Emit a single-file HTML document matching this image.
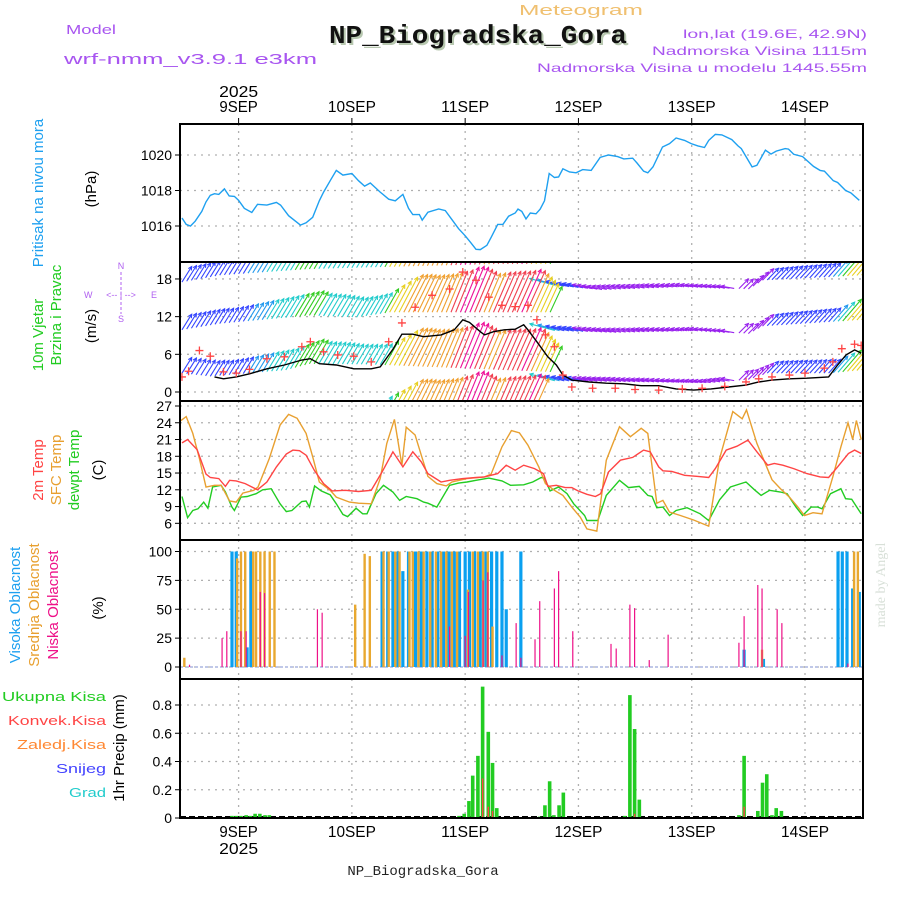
<!DOCTYPE html>
<html><head><meta charset="utf-8"><style>
html,body{margin:0;padding:0;background:#fff;}
svg{display:block;font-family:"Liberation Sans",sans-serif;}
</style></head><body>
<svg id="chart" width="900" height="900" viewBox="0 0 900 900">
<rect x="0" y="0" width="900" height="900" fill="#fff"/>
<g>
<text x="581" y="15" font-size="15" fill="#f0c070" text-anchor="middle" textLength="124" lengthAdjust="spacingAndGlyphs">Meteogram</text>
<text x="66" y="34" font-size="13" fill="#a855f0" textLength="50" lengthAdjust="spacingAndGlyphs">Model</text>
<text x="64" y="64" font-size="15" fill="#a855f0" textLength="253" lengthAdjust="spacingAndGlyphs">wrf-nmm_v3.9.1 e3km</text>
<text x="480" y="45" font-size="26" font-weight="bold" fill="#b8c8b0" text-anchor="middle" font-family="Liberation Mono, monospace" textLength="298" lengthAdjust="spacingAndGlyphs">NP_Biogradska_Gora</text>
<text x="478" y="43" font-size="26" font-weight="bold" fill="#111" text-anchor="middle" font-family="Liberation Mono, monospace" textLength="298" lengthAdjust="spacingAndGlyphs">NP_Biogradska_Gora</text>
<text x="867" y="38" font-size="12" fill="#a855f0" text-anchor="end" textLength="184" lengthAdjust="spacingAndGlyphs">lon,lat (19.6E, 42.9N)</text>
<text x="867" y="55" font-size="12" fill="#a855f0" text-anchor="end" textLength="215" lengthAdjust="spacingAndGlyphs">Nadmorska Visina 1115m</text>
<text x="867" y="72" font-size="12" fill="#a855f0" text-anchor="end" textLength="330" lengthAdjust="spacingAndGlyphs">Nadmorska Visina u modelu 1445.55m</text>
</g>
<g>
<text transform="translate(43,193) rotate(-90)" font-size="15" fill="#1ea0f0" text-anchor="middle">Pritisak na nivou mora</text>
<text transform="translate(96,189) rotate(-90)" font-size="15" fill="#000" text-anchor="middle">(hPa)</text>
<text transform="translate(43,335) rotate(-90)" font-size="15" fill="#22cc22" text-anchor="middle">10m Vjetar</text>
<text transform="translate(61,315) rotate(-90)" font-size="15" fill="#22cc22" text-anchor="middle">Brzina i Pravac</text>
<text transform="translate(96,326) rotate(-90)" font-size="15" fill="#000" text-anchor="middle">(m/s)</text>
<g font-size="9" fill="#b060f0">
<text x="121" y="269" text-anchor="middle">N</text><text x="121" y="322" text-anchor="middle">S</text>
<text x="84" y="298">W</text><text x="151" y="298">E</text>
<text x="121" y="298" text-anchor="middle">&lt;-- | --&gt;</text>
<line x1="121" y1="272" x2="121" y2="314" stroke="#b060f0" stroke-dasharray="3,2"/>
</g>
<text transform="translate(43,470) rotate(-90)" font-size="15" fill="#ff4444" text-anchor="middle">2m Temp</text>
<text transform="translate(61,470) rotate(-90)" font-size="15" fill="#e8a030" text-anchor="middle">SFC Temp</text>
<text transform="translate(79,470) rotate(-90)" font-size="15" fill="#22cc22" text-anchor="middle">dewpt Temp</text>
<text transform="translate(103,470) rotate(-90)" font-size="15" fill="#000" text-anchor="middle">(C)</text>
<text transform="translate(20,605) rotate(-90)" font-size="15" fill="#1ea0f0" text-anchor="middle">Visoka Oblacnost</text>
<text transform="translate(39,605) rotate(-90)" font-size="15" fill="#e8a030" text-anchor="middle">Srednja Oblacnost</text>
<text transform="translate(58,605) rotate(-90)" font-size="15" fill="#ee1188" text-anchor="middle">Niska Oblacnost</text>
<text transform="translate(103,608) rotate(-90)" font-size="15" fill="#000" text-anchor="middle">(%)</text>
<g font-size="13" text-anchor="end">
<text x="106" y="701" fill="#22cc22" textLength="104" lengthAdjust="spacingAndGlyphs">Ukupna Kisa</text>
<text x="106" y="725" fill="#ff4444" textLength="98" lengthAdjust="spacingAndGlyphs">Konvek.Kisa</text>
<text x="106" y="749" fill="#ff8833" textLength="89" lengthAdjust="spacingAndGlyphs">Zaledj.Kisa</text>
<text x="106" y="773" fill="#4444ff" textLength="50" lengthAdjust="spacingAndGlyphs">Snijeg</text>
<text x="106" y="797" fill="#22cccc" textLength="37" lengthAdjust="spacingAndGlyphs">Grad</text>
</g>
<text transform="translate(124,748) rotate(-90)" font-size="15" fill="#000" text-anchor="middle">1hr Precip (mm)</text>
<text transform="translate(885,585) rotate(-90)" font-size="14" fill="#d8e0d8" text-anchor="middle" font-family="Liberation Serif, serif">made by Angel</text>
<text x="423" y="875" font-size="14" fill="#222" text-anchor="middle" font-family="Liberation Mono, monospace">NP_Biogradska_Gora</text>
</g>
<g id="plot"></g>
</svg>
<script>
// ---------------- data ----------------
const dayLabels = ["9SEP","10SEP","11SEP","12SEP","13SEP","14SEP"];
const dayHours = [0,24,48,72,96,120];
const yearLabel = "2025";

const presHours = [-12,-11.1,-10.2,-9.2,-7.8,-6.9,-6,-5.1,-4.2,-3,-2,-0.9,0,1.2,2.8,4,6,8,8.9,10.6,13.1,14.3,15.7,17.1,18,19.4,20.7,22.1,24,25.4,26.7,27.9,30,31.8,33.2,34.8,36,36.9,38.3,38.9,40.1,42.4,43.8,45.2,46.6,48,49.1,50.3,51.2,52.6,53.5,54.9,56,57.2,58.6,59.2,60,60.9,61.8,63,63.9,64.8,65.8,66.9,67.8,68.7,70.1,71.5,72.9,74.7,76.6,78.4,80.3,81.6,83.5,84.4,85.8,86.7,87.8,89.8,91.3,92.7,94.5,95.9,97.3,98.7,99.6,101,102.4,104.5,105.8,106.5,108.8,109.8,111.6,112.8,113.9,115.8,116.5,117.6,119.5,121.8,123.2,124.1,126,126.9,128.6,129.7,131.5];
const presVals = [1016.45,1016.09,1016.0,1016.27,1016.82,1017.36,1017.73,1017.82,1017.78,1018.09,1017.69,1017.67,1017.45,1017.0,1016.76,1017.22,1017.18,1017.33,1017.18,1016.58,1016.05,1016.18,1016.49,1017.42,1017.91,1018.55,1019.13,1018.87,1018.96,1018.55,1018.25,1018.42,1017.91,1017.51,1017.42,1017.78,1017.0,1016.64,1016.64,1016.33,1016.78,1016.96,1016.87,1016.36,1015.85,1015.45,1015.09,1014.69,1014.67,1014.91,1015.36,1016.09,1016.09,1016.55,1016.73,1016.95,1016.82,1016.4,1016.73,1016.69,1016.95,1017.42,1018.96,1018.73,1018.76,1019.22,1019.04,1019.0,1019.18,1019.13,1019.87,1020.0,1019.91,1019.78,1019.82,1019.55,1019.09,1019.0,1019.33,1020.45,1020.64,1020.96,1020.82,1020.64,1020.51,1020.42,1020.82,1021.16,1021.13,1020.87,1020.51,1020.36,1019.33,1019.42,1020.27,1020.05,1020.22,1020.36,1020.33,1020.04,1019.91,1019.36,1019.13,1019.09,1018.55,1018.45,1018.0,1017.87,1017.45];
const presTicks = [1016,1018,1020];

const windHours = [-5.1,-3.2,-0.5,2.3,6,9.7,13.4,15.2,17.1,20.7,24.4,28.1,30,32.7,34.6,36.9,39.2,42.9,45.7,47.5,48.9,51.2,52.1,54,56.3,58.6,60.4,61.3,63.2,65.5,67.3,68.7,70.6,74.3,77.9,81.6,85.3,89,92.7,96.4,100.1,103.8,107.5,110.2,113,116.7,120.4,125,126.9,128.7,130.5,131.9];
const windVals = [2.4,2.1,2.4,2.9,3.7,4.3,5.1,5.3,4.5,4.3,3.7,3.7,4.0,6.8,9.2,9.2,8.8,9.1,9.9,11.5,11.1,9.6,9.1,9.6,9.9,10.0,10.7,9.9,8.0,5.6,4.3,2.7,1.9,1.6,1.4,1.3,1.0,1.0,0.5,0.3,0.5,0.8,1.1,1.6,1.9,2.1,2.2,2.4,4.3,5.9,6.7,6.2];
const gustHours = [-12,-10.6,-8.3,-6,-3.2,-0.5,2.3,6,9.7,13.4,15.2,18,21,24.4,28.1,31.8,34.6,37.4,41,44.7,47.5,50.3,53,55.8,58.6,61.3,63.2,65,66.9,68.7,70.6,75,79.8,84,89,94,98.2,103,107.5,110.2,113,116.7,120,124.1,125.9,127.8,130.5,131.9];
const gustVals = [2.4,3.3,6.6,5.7,3.2,3.0,3.6,5.3,5.6,7.2,8.0,6.4,5.9,5.7,4.8,8.0,11.0,13.5,15.4,16.4,19.1,17.8,15.1,13.8,13.6,13.8,11.5,9.1,7.2,2.7,0.8,0.6,0.6,0.4,0.3,0.5,0.6,0.9,1.6,2.1,2.4,2.7,3.0,3.8,4.8,6.9,7.6,7.4];
const windDirHours = [-12,30,45,66,66.5,105,106,132];
const windDirDeg = [58,60,68,65,165,170,45,50];
const rowTopHours = [-12,-4,15,30,55,66,67,77,95,108,111,132];
const rowTopVals = [17.5,18.6,19.6,19.9,20.4,20.4,17.0,16.3,16.8,16.4,17.8,18.6];
const rowMidHours = [-12,-4,15,25,32,66,67,80,98,108,111,132];
const rowMidVals = [9.9,10.9,12.2,11.9,12.7,12.7,9.8,9.5,9.8,9.3,10.5,11.5];
const rowLowHours = [-12,-6,10,15,28,66,67,100,108,112,125,132];
const rowLowVals = [3.0,2.5,3.5,4.5,4.4,3.2,1.8,1.5,2.0,3.0,3.0,3.5];
const rowBotHours = [30,62];
const rowBotVals = [-4,-4];
const windTicks = [0,6,12,18];

const t2Hours = [-12,-10.8,-8.8,-6.9,-6,-4.2,-2.8,-1.9,-0.5,1.4,4,6,8,10.1,11.5,12.9,14.3,16.1,18,19.8,22.6,25.4,28.1,30.4,32.7,34.8,36.9,38.7,40.1,42.9,44.7,47.5,50.3,52.1,54.9,56.7,58.6,60.4,62.7,64.6,65.5,67.3,69.2,70.6,71.9,73.8,75.6,76.7,78.4,80.9,83.5,85.8,87.2,89,89.9,91.8,94.5,97.3,99.6,101,103.3,105.6,107.9,109.8,112.1,113.5,115.3,117.6,120.4,123.2,125,126.9,129.2,130.5,131.9];
const t2Vals = [20.4,21.0,19.2,14.8,14.2,14.0,12.6,13.7,13.6,13.1,12.0,13.4,16.1,18.4,19.1,19.0,18.2,15.4,13.1,11.8,11.9,11.7,11.9,15.2,18.8,16.1,18.8,17.0,14.9,13.4,13.7,14.0,14.2,14.3,14.9,16.4,15.5,16.4,15.8,14.9,12.6,12.8,12.4,12.4,11.8,11.2,10.8,11.3,15.2,17.3,17.8,19.1,18.8,16.1,15.4,15.3,14.6,14.4,14.2,15.8,19.1,19.8,20.9,18.8,16.4,16.7,16.4,15.8,14.9,14.3,14.2,16.1,18.5,19.1,18.5];
const sfcHours = [-12.5,-11.1,-9.7,-8.3,-6.9,-5.1,-3.7,-1.9,-0.5,0.9,3.2,4.1,6.5,8.8,10.6,12.4,14.3,15.7,17.1,19.4,20.7,23.5,25.4,28.1,30,31.4,33,34.6,35.5,37.4,38.7,40.1,42,44,45.2,48.4,52.1,53.5,55.8,57.8,59.5,61.3,63.6,65,66.9,68.7,70.6,72.4,73.8,75.9,77.9,80.7,83,85.3,86.7,88.6,89.9,91.3,93.6,96.4,99.6,101.9,104.7,106.7,107.6,109.8,113,114.8,116.7,118.5,119.9,121.7,123.6,125.9,127.6,129.1,130.1,130.9,131.9];
const sfcVals = [24.2,25.1,22.1,17.6,12.5,12.8,12.8,10.0,9.8,11.4,11.9,12.5,17.6,23.6,25.5,24.8,22.1,17.9,13.4,11.9,10.7,9.8,9.6,9.5,14.0,20.3,24.6,16.4,23.2,21.8,18.2,14.4,13.1,12.7,13.4,14.0,14.3,14.8,19.7,22.6,22.2,20.0,16.1,13.1,11.9,11.0,8.9,7.1,5.0,4.6,17.3,23.3,21.5,23.0,22.1,9.6,10.1,8.0,7.4,6.6,5.5,17.6,26.0,24.7,26.3,20.3,13.8,12.2,10.7,8.9,7.4,7.9,7.7,14.3,19.7,24.0,21.0,24.4,21.0];
const dewHours = [-12,-10.8,-9.7,-8.6,-7.4,-6.5,-5.5,-3.7,-2.8,-1.4,-0.9,0.5,1.8,3.7,5.1,6.9,8.8,10.1,11.3,13.4,14.3,15,16.1,17.5,19.4,20.7,22.1,23.1,24.9,26.3,27.2,29.1,30.7,32.7,34.1,35.5,37.8,39.2,40.1,42,44.7,46.6,48.4,50.3,53,55.8,57.6,60.4,62.3,64.1,64.8,66,67.8,69.6,71,73.3,73.8,76.1,77.9,80.7,82.6,84.9,86.7,87.6,88.6,89.9,91.3,92.7,95,97.8,99.6,101.9,104.2,107.5,109.3,110.7,112.5,114.8,116.2,118.1,119.5,121.3,122.7,123.6,125.4,127.6,128.6,129.9,131.9];
const dewVals = [10.8,7.0,8.3,8.6,9.8,8.7,12.5,12.8,11.6,8.9,8.3,10.7,10.8,11.3,12.0,12.2,9.5,8.1,8.3,9.9,10.0,8.9,12.7,11.8,11.1,9.5,7.6,7.2,8.7,7.7,7.7,11.3,12.8,11.6,10.1,10.8,10.4,9.8,9.6,8.9,12.8,13.2,13.4,13.7,14.1,13.6,12.8,12.9,13.4,14.2,14.1,11.8,12.5,11.3,9.5,7.4,6.5,6.5,11.0,13.7,12.4,12.6,11.0,10.8,8.8,8.9,7.4,8.3,8.8,7.7,6.5,10.2,12.5,13.4,12.0,11.0,11.9,11.6,11.3,8.9,7.4,8.9,8.9,8.6,11.3,12.2,10.4,10.3,7.7];
const tempTicks = [6,9,12,15,18,21,24,27];

const highHours = [-1.4,-0.5,1.8,2.6,30.4,31.6,32.7,33.8,34.8,36,37.5,38.7,39.9,41,42.2,43.4,44.6,45.7,46.8,48,48.9,50,51.2,52.4,53.6,54.7,55.8,56.7,59.8,107.1,111.2,127,127.9,128.9,130.1,131.5];
const highVals = [100,100,17,100,100,100,100,100,83,100,100,100,100,100,100,100,100,100,100,100,100,100,100,100,100,100,100,50,100,15,7,100,100,100,68,65];
const midHours = [-11.5,-0.3,0.5,1.4,3.1,3.7,4.6,5.5,6.6,7.6,24.7,26.7,27.8,30.7,31.8,33.2,34.1,36.2,36.9,38.1,39.2,40.6,41.8,42.9,44,45.2,46.3,48.6,49.6,50.7,51.8,52.8,53.8,110.9,130.4,131.2];
const midVals = [8,94,100,100,100,100,100,100,100,100,54,98,96,100,100,100,100,100,100,100,100,100,100,100,100,100,100,67,100,100,100,100,35,15,100,100];
const lowHours = [-10.4,-3.5,-2.5,0.5,1.6,4.6,5.5,16.7,17.7,44.7,48,48.7,51.8,52.8,55.8,58.8,59.8,62.8,63.8,66.9,67.8,70.8,78.9,80,82.9,83.9,87,91,106,107.1,110,110.9,114.1,115.1,129.1];
const lowVals = [2,25,31,31,31,65,64,50,47,35,27,65,75,82,10,38,8,24,57,68,83,31,20,16,54,51,6,28,21,44,71,68,50,38,3];
const cloudTicks = [0,25,50,75,100];

const rainHours = [-1.4,-0.5,0.5,1.6,2.5,3.5,4.5,5.6,6.5,46.7,47.8,48.8,49.6,50.7,51.7,52.9,53.8,54.7,63.8,64.9,65.9,66.8,67.9,68.8,81.8,82.9,83.9,84.9,106,107.1,110,111,111.9,113,113.9,115];
const rainVals = [0.015,0.015,0.015,0.02,0.015,0.03,0.03,0.02,0.02,0.015,0.03,0.12,0.30,0.44,0.93,0.61,0.39,0.07,0.01,0.09,0.26,0.02,0.09,0.18,0.015,0.87,0.63,0.13,0.02,0.44,0.05,0.25,0.31,0.02,0.07,0.05];
const convHours = [51.7,52.9,53.8,83.9,107.1];
const convVals = [0.28,0.08,0.05,0.03,0.08];
const precipTicks = [0,0.2,0.4,0.6,0.8];

// ---------------- scales ----------------
const X0=180, X1=863;
const xs = h => 238.6 + 4.72*h;
const P = {pres:[124,262], wind:[262,401], temp:[401,540], cloud:[540,679], rain:[679,818]};
const yP = p => 155 + (1020-p)*17.75;
const yW = s => 392 - 6.28*s;
const yT = t => 406 + (27-t)*5.586;
const yC = c => 667 - 1.155*c;
const yR = r => 818 - 141.25*r;
const NS="http://www.w3.org/2000/svg";
const plot=document.getElementById('plot');
function el(tag, attrs, parent){
  const e=document.createElementNS(NS,tag);
  for(const k in attrs) e.setAttribute(k, attrs[k]);
  (parent||plot).appendChild(e); return e;
}
function interp(hs, vs, h){
  if(h<=hs[0]) return vs[0];
  if(h>=hs[hs.length-1]) return vs[vs.length-1];
  for(let i=1;i<hs.length;i++){ if(h<=hs[i]){ const f=(h-hs[i-1])/(hs[i]-hs[i-1]); return vs[i-1]+f*(vs[i]-vs[i-1]); } }
}
const defs=el('defs',{});
Object.keys(P).forEach(k=>{
  const cp=el('clipPath',{id:'clip-'+k},defs);
  el('rect',{x:X0,y:P[k][0],width:X1-X0,height:P[k][1]-P[k][0]},cp);
});

function grid(panel, ticks, yf, g){
  ticks.forEach(t=>{
    const y=yf(t);
    const l=el('line',{x1:X0,x2:X1,y1:y,y2:y,stroke:'#b0b0b0','stroke-width':1.3,'stroke-dasharray':'2,5'},g);
    
    
  });
  dayHours.forEach(h=>{
    const l=el('line',{x1:xs(h),x2:xs(h),y1:P[panel][0],y2:P[panel][1],stroke:'#b0b0b0','stroke-width':1.3,'stroke-dasharray':'2,5'},g);
    
    
  });
}
function yticks(panel, ticks, yf, fmt, g){
  ticks.forEach(t=>{
    const y=yf(t);
    el('line',{x1:X0-5,x2:X0,y1:y,y2:y,stroke:'#000'},g);
    const tx=el('text',{x:X0-8,y:y+5,'font-size':14,'text-anchor':'end',fill:'#000'},g);
    tx.textContent=fmt(t);
    
    
  });
}
function line(hs, vs, yf, color, panel, name){
  const pts=hs.map((h,i)=>xs(h).toFixed(1)+','+yf(vs[i]).toFixed(1)).join(' ');
  const pl=el('polyline',{points:pts,fill:'none',stroke:color,'stroke-width':1.4,'clip-path':'url(#clip-'+panel+')'});
  
  
}

// pressure
const gP=el('g',{});


grid('pres',presTicks,yP,gP);
yticks('pres',presTicks,yP,t=>String(t),gP);
line(presHours,presVals,yP,'#1ea0f0','pres','pressure-line');

// wind
const gW=el('g',{'clip-path':'url(#clip-wind)'});


grid('wind',windTicks,yW,gW);
yticks('wind',windTicks,yW,t=>String(t),plot);
function windColor(s){
  if(s<1.7) return '#9922ee';
  if(s<2.8) return '#3344ff';
  if(s<3.6) return '#2299ee';
  if(s<4.6) return '#22cccc';
  if(s<6) return '#33cc22';
  if(s<8.7) return '#e8d020';
  if(s<9.5) return '#f0a030';
  if(s<10.5) return '#f04050';
  return '#ee1199';
}
function arrowRow(hs, vs, name){
  const g=el('g',{},gW);
  
  
  const h0=Math.max(-12,Math.ceil(hs[0])), h1=Math.min(132,Math.floor(hs[hs.length-1]));
  for(let h=h0; h<=h1; h+=1){
    const base=interp(hs,vs,h);
    const sp=interp(windHours,windVals,h);
    const dir=interp(windDirHours,windDirDeg,h)*Math.PI/180;
    const len=10+3.5*sp;
    const x0=xs(h), y0=yW(base);
    const x1=x0+len*Math.cos(dir), y1=y0-len*Math.sin(dir);
    const c=windColor(sp);
    el('line',{x1:x0,y1:y0,x2:x1,y2:y1,stroke:c,'stroke-width':1.1},g);
    const a1=dir+Math.PI*0.85, a2=dir-Math.PI*0.85;
    el('polyline',{points:`${x1+4*Math.cos(a1)},${y1-4*Math.sin(a1)} ${x1},${y1} ${x1+4*Math.cos(a2)},${y1-4*Math.sin(a2)}`,fill:'none',stroke:c,'stroke-width':1.1},g);
  }
}
arrowRow(rowTopHours,rowTopVals,'wind-arrows-top-row');
arrowRow(rowMidHours,rowMidVals,'wind-arrows-mid-row');
arrowRow(rowLowHours,rowLowVals,'wind-arrows-low-row');
arrowRow(rowBotHours,rowBotVals,'wind-arrows-bottom-row');
line(windHours,windVals,yW,'#000','wind','wind-speed-line');
gustHours.forEach((h,i)=>{
  const x=xs(h), y=yW(gustVals[i]);
  const p=el('path',{d:`M${x-4},${y}H${x+4}M${x},${y-4}V${y+4}`,stroke:'#ff4444','stroke-width':1.3,'clip-path':'url(#clip-wind)'});
  
  
});

// temperature
const gT=el('g',{});


grid('temp',tempTicks,yT,gT);
yticks('temp',tempTicks,yT,t=>String(t),gT);
line(dewHours,dewVals,yT,'#22cc22','temp','dewpoint-line');
line(sfcHours,sfcVals,yT,'#e8a030','temp','sfc-temp-line');
line(t2Hours,t2Vals,yT,'#ff4444','temp','temp-2m-line');

// clouds
const gC=el('g',{});


grid('cloud',cloudTicks,yC,gC);
yticks('cloud',cloudTicks,yC,t=>String(t),gC);
el('line',{x1:X0,x2:X1,y1:yC(0),y2:yC(0),stroke:'#c0c8e8','stroke-width':2,'stroke-dasharray':'3,2'},gC);
function bars(hs, vs, yf, color, w, dx, name, base){
  hs.forEach((h,i)=>{
    const y=yf(vs[i]);
    const r=el('rect',{x:xs(h)-w/2+dx,y:y,width:w,height:Math.max(0,base-y),fill:color});
    
    
  });
}
bars(highHours,highVals,yC,'#0aa0f0',3.2,0,'high-cloud-bar',yC(0));
bars(midHours,midVals,yC,'#e8a830',2.4,0,'mid-cloud-bar',yC(0));
bars(lowHours,lowVals,yC,'#ee1188',1.2,0,'low-cloud-bar',yC(0));

// precipitation
const gR=el('g',{});


grid('rain',precipTicks,yR,gR);
yticks('rain',precipTicks,yR,t=>t===0?'0':t.toFixed(1),gR);
bars(rainHours,rainVals,yR,'#22cc22',3.6,0,'total-rain-bar',yR(0));
bars(convHours,convVals,yR,'#ff4444',1.4,0,'convective-rain-bar',yR(0));
el('line',{x1:X0,x2:X1,y1:817,y2:817,stroke:'#000','stroke-width':2,'stroke-dasharray':'6,3'},gR);

// frames
Object.keys(P).forEach(k=>{
  const r=el('rect',{x:X0,y:P[k][0],width:X1-X0,height:P[k][1]-P[k][0],fill:'none',stroke:'#000','stroke-width':2});
  
  
});
dayHours.forEach((h,i)=>{
  [[112,'top'],[837,'bottom']].forEach(([y,pos])=>{
    const t=el('text',{x:xs(h),y:y,'font-size':16,'text-anchor':'middle',fill:'#000',textLength:dayLabels[i].length*9.6,lengthAdjust:'spacingAndGlyphs'});
    t.textContent=dayLabels[i];
    
    
  });
  el('line',{x1:xs(h),x2:xs(h),y1:118,y2:124,stroke:'#000'});
});
[[97,'top'],[854,'bottom']].forEach(([y,pos])=>{
  const t=el('text',{x:xs(0),y:y,'font-size':16,'text-anchor':'middle',fill:'#000',textLength:39,lengthAdjust:'spacingAndGlyphs'});
  t.textContent=yearLabel;
  
  
});
</script>
</body></html>
